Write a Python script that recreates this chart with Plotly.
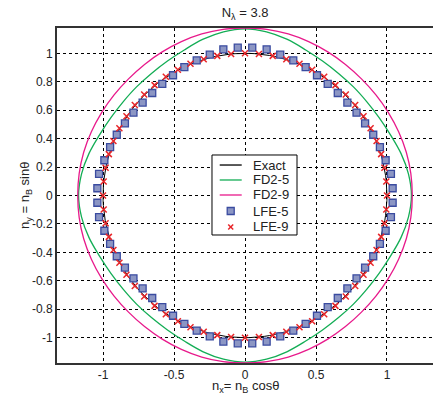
import numpy as np
import plotly.graph_objects as go

# Radial readings n_B(phi) for one octant, phi measured from the nearest axis (deg).
# The dispersion curves share the 8-fold symmetry of the grid, so the octant
# is reflected to fill the whole circle.
fd_phi = [0.0, 7.5, 15.0, 22.5, 30.0, 37.5, 45.0]
fd2_5_r = [1.172, 1.161, 1.138, 1.110, 1.092, 1.082, 1.080]
fd2_9_r = [1.178, 1.178, 1.176, 1.171, 1.166, 1.162, 1.160]

# Discrete solutions (LFE): propagation angles on a 5.625 deg spacing
lfe5_phi = [2.8125, 8.4375, 14.0625, 19.6875, 25.3125, 30.9375, 36.5625, 42.1875]
lfe5_r = [1.041, 1.039, 1.021, 1.009, 0.999, 0.986, 0.978, 0.973]
lfe9_phi = [0.0, 5.625, 11.25, 16.875, 22.5, 28.125, 33.75, 39.375, 45.0]
lfe9_r = [1.000, 1.000, 1.001, 1.002, 1.003, 1.003, 1.004, 1.004, 1.004]

exact_r = 1.0

x_ticks = [-1, -0.5, 0, 0.5, 1]
y_ticks = [-1, -0.8, -0.6, -0.4, -0.2, 0, 0.2, 0.4, 0.6, 0.8, 1]

series_names = ["Exact", "FD2-5", "FD2-9", "LFE-5", "LFE-9"]

C_EXACT = "black"
C_FD5 = "#13ad55"
C_FD9 = "#e8198b"
C_SQ_FILL = "#8c96c4"
C_SQ_EDGE = "#3a4ba0"
C_X = "#e8262a"


def full_circle(phi_oct, r_oct, closed=False):
    """Reflect octant samples (angle from axis) into 360 deg, return x, y."""
    q_ang = list(phi_oct)
    q_r = list(r_oct)
    for p, r in zip(reversed(phi_oct), reversed(r_oct)):
        a = 90.0 - p
        if all(abs(a - b) > 1e-9 for b in q_ang):
            q_ang.append(a)
            q_r.append(r)
    order = np.argsort(q_ang)
    q_ang = np.array(q_ang)[order]
    q_r = np.array(q_r)[order]
    ang, rad = [], []
    for k in range(4):
        for a, r in zip(q_ang, q_r):
            t = a + 90.0 * k
            if any(abs((t % 360) - (b % 360)) < 1e-9 for b in ang):
                continue
            ang.append(t)
            rad.append(r)
    ang = np.array(ang)
    rad = np.array(rad)
    if closed:
        ang = np.append(ang, ang[0] + 360)
        rad = np.append(rad, rad[0])
    th = np.deg2rad(ang)
    return rad * np.cos(th), rad * np.sin(th)


fig = go.Figure()

th = np.deg2rad(np.arange(0, 361, 2))
fig.add_trace(go.Scatter(x=exact_r * np.cos(th), y=exact_r * np.sin(th),
                         mode="lines", name=series_names[0],
                         line=dict(color=C_EXACT, width=1)))

gx, gy = full_circle(fd_phi, fd2_5_r, closed=True)
fig.add_trace(go.Scatter(x=gx, y=gy, mode="lines", name=series_names[1],
                         line=dict(color=C_FD5, width=1.3, shape="spline")))

mx, my = full_circle(fd_phi, fd2_9_r, closed=True)
fig.add_trace(go.Scatter(x=mx, y=my, mode="lines", name=series_names[2],
                         line=dict(color=C_FD9, width=1.3, shape="spline")))

sx, sy = full_circle(lfe5_phi, lfe5_r)
fig.add_trace(go.Scatter(x=sx, y=sy, mode="markers", name=series_names[3],
                         marker=dict(symbol="square", size=7, color=C_SQ_FILL,
                                     line=dict(color=C_SQ_EDGE, width=1.3))))

cx, cy = full_circle(lfe9_phi, lfe9_r)
fig.add_trace(go.Scatter(x=cx, y=cy, mode="markers", name=series_names[4],
                         marker=dict(symbol="x-thin", size=6,
                                     line=dict(color=C_X, width=1.5),
                                     color=C_X)))

font = "Liberation Sans, Arial, sans-serif"

# ---- boxed legend drawn in paper space (compact MATLAB-style entries) ----
leg_x0, leg_x1 = 0.4122, 0.6383
leg_y0, leg_y1 = 0.3821, 0.6209
sample_x = 0.462          # centre of the sample glyph
text_x = 0.515
entry_y = [0.591, 0.5463, 0.5015, 0.4537, 0.406]

shapes = [dict(type="rect", xref="paper", yref="paper",
               x0=leg_x0, x1=leg_x1, y0=leg_y0, y1=leg_y1,
               fillcolor="white", line=dict(color="black", width=1),
               layer="above")]
line_colors = [C_EXACT, C_FD5, C_FD9]
for yv, col in zip(entry_y[:3], line_colors):
    shapes.append(dict(type="line", xref="paper", yref="paper",
                       xsizemode="pixel", xanchor=sample_x, x0=-11, x1=11,
                       y0=yv, y1=yv, line=dict(color=col, width=1.3),
                       layer="above"))
# square glyph
shapes.append(dict(type="rect", xref="paper", yref="paper",
                   xsizemode="pixel", ysizemode="pixel",
                   xanchor=sample_x, yanchor=entry_y[3],
                   x0=-3.5, x1=3.5, y0=-3.5, y1=3.5,
                   fillcolor=C_SQ_FILL, line=dict(color=C_SQ_EDGE, width=1.3),
                   layer="above"))
# cross glyph
for s in (1, -1):
    shapes.append(dict(type="line", xref="paper", yref="paper",
                       xsizemode="pixel", ysizemode="pixel",
                       xanchor=sample_x, yanchor=entry_y[4],
                       x0=-2.5, x1=2.5, y0=-2.5 * s, y1=2.5 * s,
                       line=dict(color=C_X, width=1.5), layer="above"))

annotations = [
    dict(text="n<sub>x</sub>= n<sub>B</sub> cosθ", xref="paper", yref="paper",
         x=0.5, y=-0.07, xanchor="center", yanchor="middle",
         showarrow=False, font=dict(size=13, color="#222")),
    dict(text="n<sub>y</sub> = n<sub>B</sub> sinθ", xref="paper", yref="paper",
         x=-0.084, y=0.5, xanchor="center", yanchor="middle", textangle=-90,
         showarrow=False, font=dict(size=13, color="#222")),
]
for name, yv in zip(series_names, entry_y):
    annotations.append(dict(text=name, xref="paper", yref="paper",
                            x=text_x, y=yv, xanchor="left", yanchor="middle",
                            showarrow=False, font=dict(size=13, color="#222")))

fig.update_layout(
    width=433, height=398,
    margin=dict(l=57, r=0, t=28, b=35),
    paper_bgcolor="white", plot_bgcolor="white",
    font=dict(family=font, size=12, color="#222"),
    title=dict(text="N<sub>λ</sub> = 3.8", x=0.566, xanchor="center",
               y=0.968, yanchor="middle", font=dict(size=13, color="#222")),
    showlegend=False,
    xaxis=dict(range=[-1.324, 1.324], tickvals=x_ticks,
               ticktext=[f"{v:g}" for v in x_ticks],
               showgrid=True, gridcolor="black", gridwidth=1, griddash="3px,3px",
               zeroline=False, showline=True, linecolor="#333", linewidth=2,
               mirror=True, ticks="", fixedrange=True),
    yaxis=dict(range=[-1.178, 1.178], tickvals=y_ticks,
               ticktext=[f"{v:g}" for v in y_ticks],
               showgrid=True, gridcolor="black", gridwidth=1, griddash="3px,3px",
               zeroline=False, showline=True, linecolor="#333", linewidth=2,
               mirror=False, ticks="", fixedrange=True),
    shapes=shapes,
    annotations=annotations,
)

fig.write_html("out.html")
